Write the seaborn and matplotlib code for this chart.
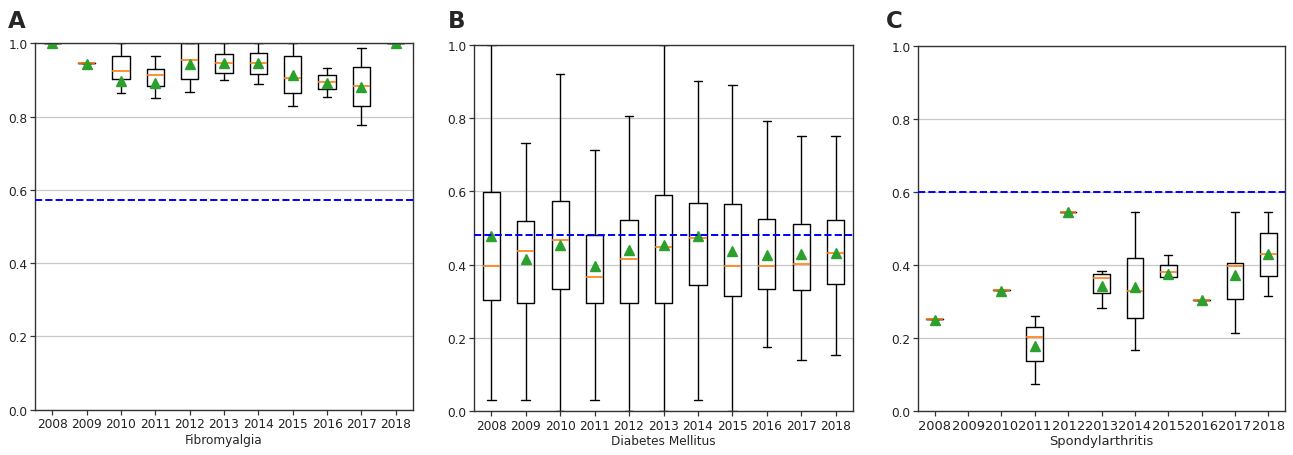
import matplotlib
matplotlib.use("Agg")
import matplotlib.pyplot as plt
import seaborn as sns

years = [2008, 2009, 2010, 2011, 2012, 2013, 2014, 2015, 2016, 2017, 2018]

# Fibromyalgia (panel A)
fib_whislo = [1.0, 0.945, 0.864, 0.850, 0.866, 0.900, 0.890, 0.830, 0.854, 0.778, 1.0]
fib_q1     = [1.0, 0.945, 0.902, 0.883, 0.902, 0.919, 0.916, 0.864, 0.874, 0.830, 1.0]
fib_med    = [1.0, 0.945, 0.924, 0.914, 0.955, 0.945, 0.945, 0.904, 0.894, 0.883, 1.0]
fib_q3     = [1.0, 0.945, 0.966, 0.929, 1.0, 0.971, 0.974, 0.966, 0.913, 0.934, 1.0]
fib_whishi = [1.0, 0.945, 1.0, 0.965, 1.0, 1.0, 1.0, 1.0, 0.933, 0.987, 1.0]
fib_mean   = [1.0, 0.943, 0.898, 0.892, 0.944, 0.947, 0.945, 0.913, 0.892, 0.882, 1.0]
fib_ref = 0.571

# Diabetes Mellitus (panel B)
dm_whislo = [0.030, 0.030, 0.0, 0.030, 0.0, 0.0, 0.030, 0.0, 0.176, 0.139, 0.152]
dm_q1     = [0.303, 0.296, 0.333, 0.296, 0.296, 0.296, 0.343, 0.313, 0.332, 0.330, 0.346]
dm_med    = [0.396, 0.436, 0.467, 0.365, 0.415, 0.448, 0.472, 0.396, 0.396, 0.402, 0.431]
dm_q3     = [0.599, 0.518, 0.573, 0.481, 0.523, 0.589, 0.568, 0.565, 0.525, 0.510, 0.523]
dm_whishi = [1.0, 0.731, 0.921, 0.714, 0.807, 1.0, 0.901, 0.891, 0.793, 0.751, 0.751]
dm_mean   = [0.478, 0.416, 0.453, 0.397, 0.440, 0.453, 0.477, 0.436, 0.426, 0.429, 0.431]
dm_ref = 0.480

# Spondylarthritis (panel C) - no data for 2009
sp_years  = [2008, 2010, 2011, 2012, 2013, 2014, 2015, 2016, 2017, 2018]
sp_whislo = [0.252, 0.332, 0.073, 0.544, 0.282, 0.168, 0.367, 0.305, 0.215, 0.314]
sp_q1     = [0.252, 0.332, 0.136, 0.544, 0.324, 0.255, 0.367, 0.305, 0.308, 0.370]
sp_med    = [0.252, 0.332, 0.202, 0.544, 0.365, 0.329, 0.381, 0.305, 0.397, 0.431]
sp_q3     = [0.252, 0.332, 0.231, 0.544, 0.376, 0.419, 0.399, 0.305, 0.405, 0.487]
sp_whishi = [0.252, 0.332, 0.259, 0.544, 0.383, 0.544, 0.428, 0.305, 0.544, 0.544]
sp_mean   = [0.250, 0.330, 0.177, 0.544, 0.343, 0.340, 0.376, 0.303, 0.372, 0.429]
sp_ref = 0.600

sns.set_style("ticks")
plt.rcParams["font.family"] = ["DejaVu Sans"]

fig = plt.figure(figsize=(12.93, 4.56), dpi=100)
rects = [
    [0.0271, 0.0993, 0.2923, 0.8036],
    [0.3666, 0.0965, 0.2931, 0.8026],
    [0.7100, 0.0965, 0.2838, 0.8004],
]
panels = [
    ("A", "Fibromyalgia", years, fib_whislo, fib_q1, fib_med, fib_q3, fib_whishi, fib_mean, fib_ref),
    ("B", "Diabetes Mellitus", years, dm_whislo, dm_q1, dm_med, dm_q3, dm_whishi, dm_mean, dm_ref),
    ("C", "Spondylarthritis", sp_years, sp_whislo, sp_q1, sp_med, sp_q3, sp_whishi, sp_mean, sp_ref),
]
letter_x = [8 / 1293, 448 / 1293, 886 / 1293]
xtick_size = [8.7, 8.7, 9.4]
label_size = [8.7, 8.7, 9.4]

for i, (letter, name, yrs, lo, q1, med, q3, hi, mean, ref) in enumerate(panels):
    ax = fig.add_axes(rects[i])
    stats = []
    for j in range(len(yrs)):
        stats.append(dict(whislo=lo[j], q1=q1[j], med=med[j], q3=q3[j],
                          whishi=hi[j], mean=mean[j], fliers=[]))
    pos = [years.index(y) + 1 for y in yrs]
    ax.bxp(stats, positions=pos, widths=0.5, showmeans=True,
           boxprops=dict(color="black", linewidth=1.0),
           whiskerprops=dict(color="black", linewidth=1.0),
           capprops=dict(color="black", linewidth=1.0),
           medianprops=dict(color="#ff7f0e", linewidth=1.2),
           meanprops=dict(marker="^", markerfacecolor="#2ca02c",
                          markeredgecolor="#2ca02c", markersize=6.5))
    ax.axhline(ref, color="blue", linestyle="--", linewidth=1.4, zorder=3)
    ax.set_xlim(0.5, len(years) + 0.5)
    ax.set_xticks(range(1, len(years) + 1))
    ax.set_xticklabels([str(y) for y in years], fontsize=xtick_size[i])
    ax.set_ylim(0.0, 1.0)
    ax.set_yticks([0.0, 0.2, 0.4, 0.6, 0.8, 1.0])
    ax.set_yticklabels(["0.0", "0.2", "0.4", "0.6", "0.8", "1.0"], fontsize=8.7)
    ax.yaxis.grid(True, color="#c8c8c8", linewidth=0.9)
    ax.set_axisbelow(True)
    ax.set_xlabel(name, fontsize=label_size[i], labelpad=2)
    for s in ax.spines.values():
        s.set_visible(True)
        s.set_color("#333333")
        s.set_linewidth(1.0)
    ax.tick_params(axis="both", length=3.5, width=0.9, color="#333333", pad=2,
                   labelcolor="#222222")
    fig.text(letter_x[i], 1 - 28 / 456, letter, fontsize=16.5, fontweight="bold",
             va="baseline", ha="left")

fig.savefig("out.png", dpi=100)
